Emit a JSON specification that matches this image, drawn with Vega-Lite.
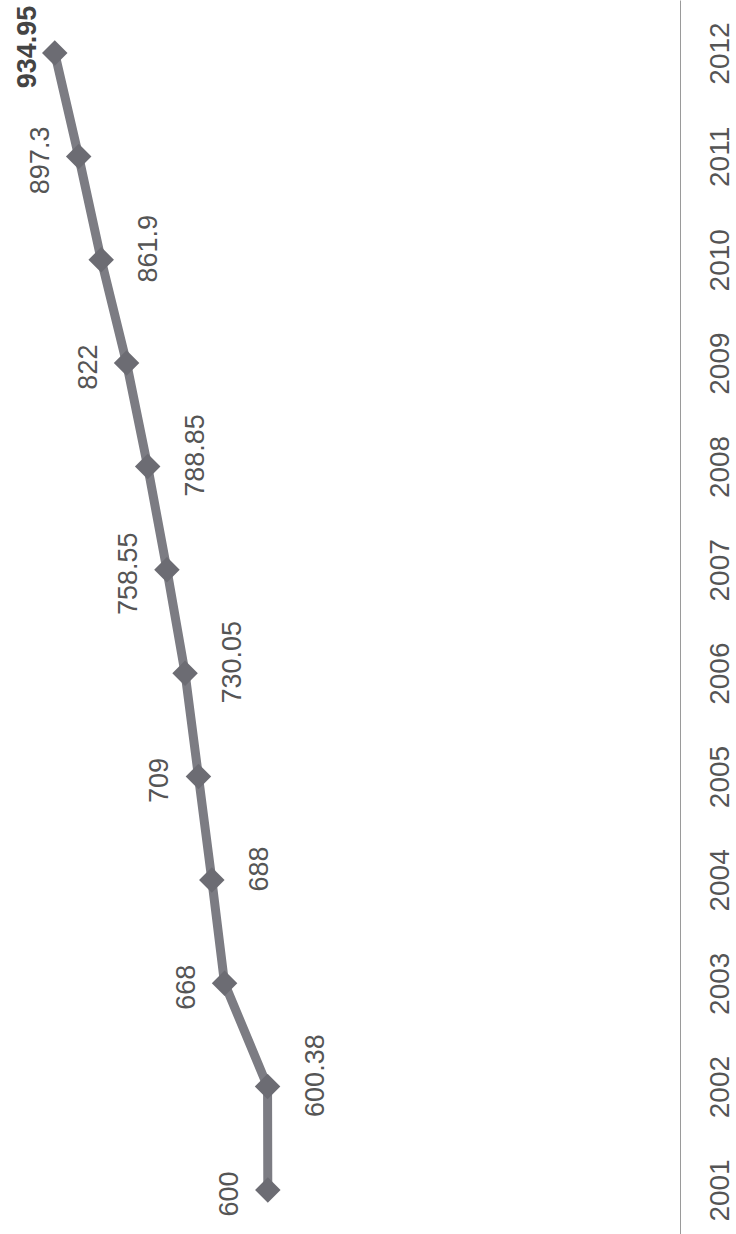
{
  "$schema": "https://vega.github.io/schema/vega-lite/v6.json",
  "autosize": {"type": "none"},
  "width": 680,
  "height": 1234,
  "padding": {"left": 0, "top": 0, "right": 56, "bottom": 0},
  "background": "white",
  "config": {"view": {"stroke": null}},
  "data": {"values": [
    {"year": 2001, "value": 600, "label": "600"},
    {"year": 2002, "value": 600.38, "label": "600.38"},
    {"year": 2003, "value": 668, "label": "668"},
    {"year": 2004, "value": 688, "label": "688"},
    {"year": 2005, "value": 709, "label": "709"},
    {"year": 2006, "value": 730.05, "label": "730.05"},
    {"year": 2007, "value": 758.55, "label": "758.55"},
    {"year": 2008, "value": 788.85, "label": "788.85"},
    {"year": 2009, "value": 822, "label": "822"},
    {"year": 2010, "value": 861.9, "label": "861.9"},
    {"year": 2011, "value": 897.3, "label": "897.3"},
    {"year": 2012, "value": 934.95, "label": "934.95"}
  ]},
  "encoding": {
    "x": {"field": "value", "type": "quantitative", "scale": {"domain": [-48, 1021], "reverse": true, "nice": false, "zero": false}, "axis": null},
    "y": {"field": "year", "type": "quantitative", "scale": {"domain": [2000.574, 2012.513], "nice": false, "zero": false},
      "axis": {"orient": "right", "values": [2001,2002,2003,2004,2005,2006,2007,2008,2009,2010,2011,2012], "format": "d", "title": null, "grid": false, "ticks": false, "tickSize": 0, "labelAngle": 270, "labelAlign": "center", "labelBaseline": "middle", "labelPadding": 40, "labelFont": "Liberation Sans", "labelFontSize": 28, "labelColor": "#555555", "labelOverlap": false, "labelFlush": false, "domainColor": "#9a9a9a", "domainWidth": 1}}
  },
  "layer": [
    {"mark": {"type": "line", "color": "#7c7c83", "strokeWidth": 9}},
    {"mark": {"type": "point", "shape": "diamond", "filled": true, "size": 650, "color": "#6c6c73", "opacity": 1}},
    {"transform": [{"filter": "datum.year % 2 == 1"}],
     "mark": {"type": "text", "angle": 270, "align": "center", "baseline": "middle", "dy": -38, "dx": -4, "font": "Liberation Sans", "fontSize": 27, "color": "#555555"},
     "encoding": {"text": {"field": "label"}}},
    {"transform": [{"filter": "datum.year % 2 == 0 && datum.year != 2012"}],
     "mark": {"type": "text", "angle": 270, "align": "center", "baseline": "middle", "dy": 48, "dx": 11, "font": "Liberation Sans", "fontSize": 27, "color": "#555555"},
     "encoding": {"text": {"field": "label"}}},
    {"transform": [{"filter": "datum.year == 2012"}],
     "mark": {"type": "text", "angle": 270, "align": "center", "baseline": "middle", "dy": -27, "dx": 6, "font": "Liberation Sans", "fontSize": 27, "fontWeight": "bold", "color": "#444444"},
     "encoding": {"text": {"field": "label"}}}
  ]
}
